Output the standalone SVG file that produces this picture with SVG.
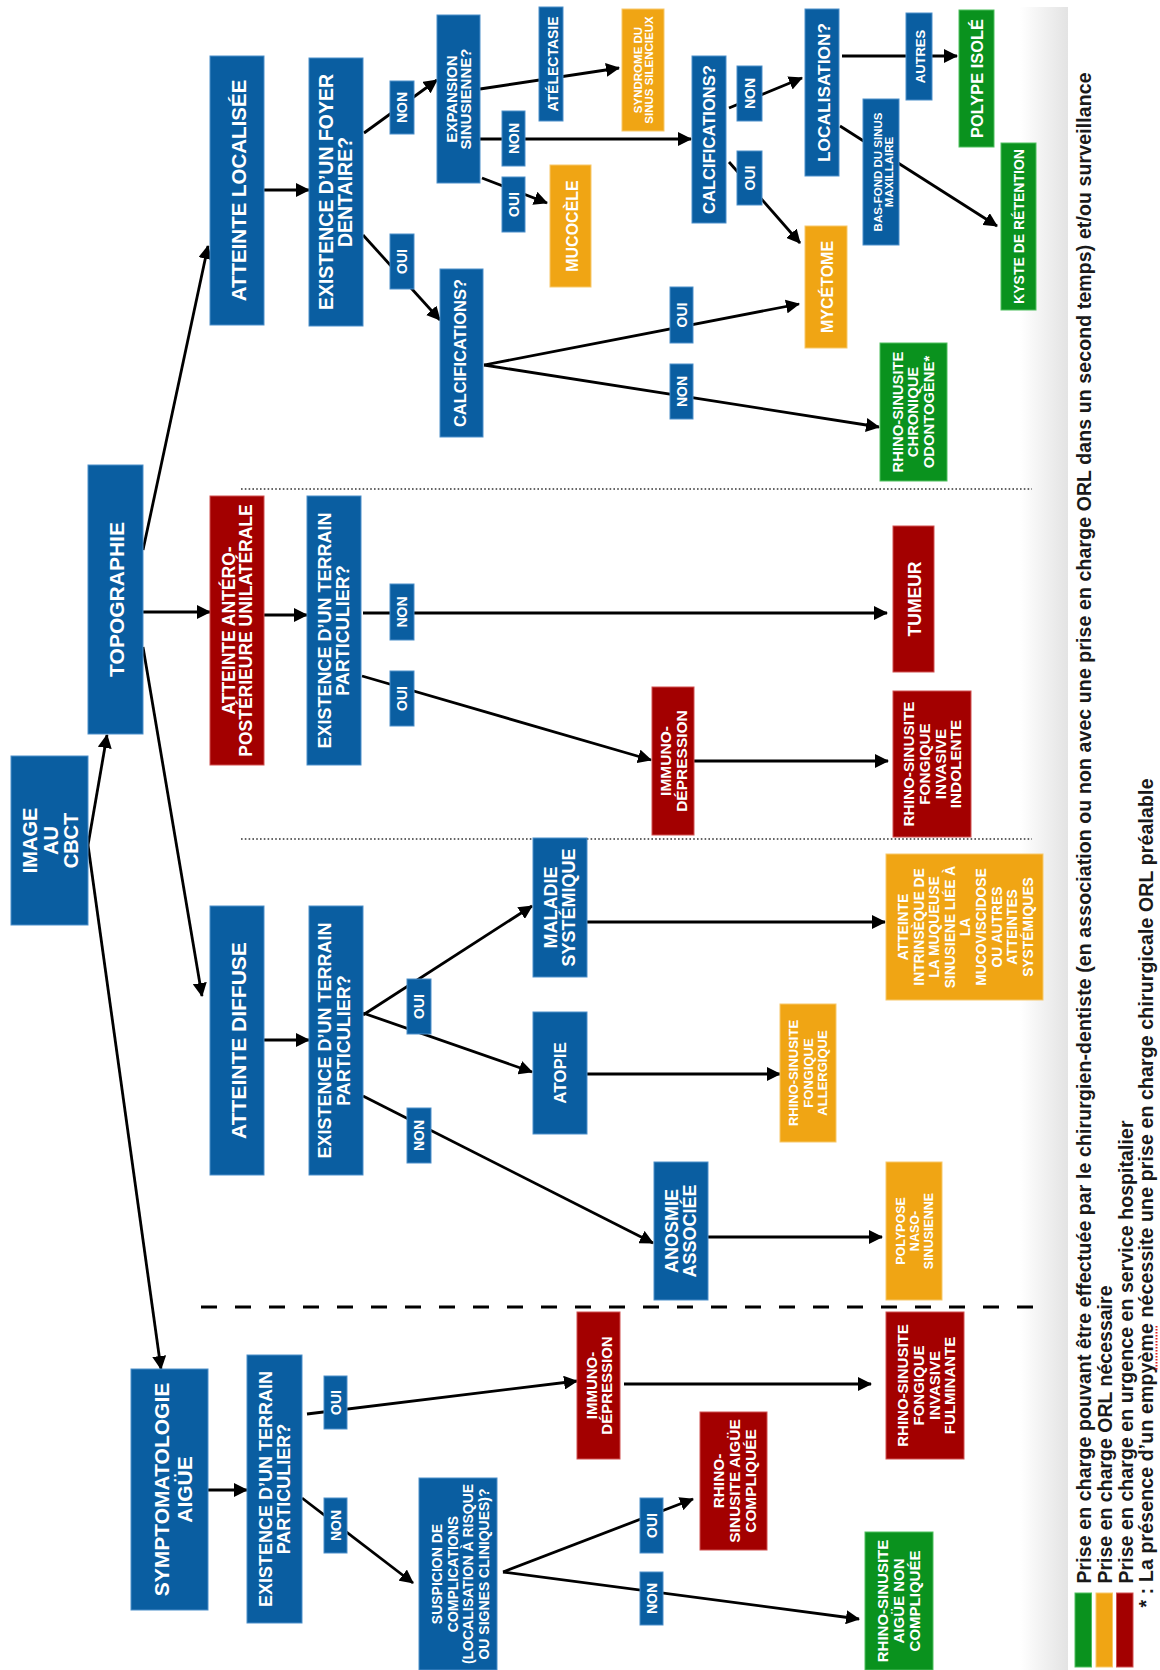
<svg xmlns="http://www.w3.org/2000/svg" width="1160" height="1670" viewBox="0 0 1160 1670">
<defs>
<style>
.blue{fill:#0a5ea1;stroke:#4d8fca;stroke-width:1}
.red{fill:#a30000;stroke:#d05050;stroke-width:1}
.orange{fill:#f0a514;stroke:#f7c86a;stroke-width:1}
.green{fill:#0a921e;stroke:#4fbf5e;stroke-width:1}
.t{font-family:"Liberation Sans",Arial,Helvetica,sans-serif;font-weight:bold;fill:#fff;text-anchor:middle}
.lb{font-family:"Liberation Sans",Arial,Helvetica,sans-serif;font-weight:bold;fill:#fff;text-anchor:middle;font-size:14px}
.c{stroke:#000;stroke-width:2.8;fill:none;marker-end:url(#ah)}
.lg{font-family:"Liberation Sans",Arial,Helvetica,sans-serif;font-size:19.5px;font-weight:bold;fill:#1a1a1a}
</style>
<marker id="ah" markerUnits="userSpaceOnUse" viewBox="0 0 14 14" markerWidth="14" markerHeight="14" refX="13" refY="7" orient="auto"><path d="M0,0 L14,7 L0,14 z" fill="#000"/></marker>
<linearGradient id="shade" x1="0" x2="1" y1="0" y2="0"><stop offset="0" stop-color="#ffffff"/><stop offset="1" stop-color="#e3e3e3"/></linearGradient>
</defs>
<rect x="0" y="0" width="1160" height="1670" fill="#fff"/>
<rect x="1020" y="7" width="48" height="1663" fill="url(#shade)"/>

<g id="separators">
<line x1="241" y1="489" x2="1032" y2="489" stroke="#333" stroke-width="1.6" stroke-dasharray="1.6 2.2"/>
<line x1="241" y1="839" x2="1032" y2="839" stroke="#333" stroke-width="1.6" stroke-dasharray="1.6 2.2"/>
<line x1="201" y1="1307" x2="1040" y2="1307" stroke="#000" stroke-width="3" stroke-dasharray="16 18"/>
</g>

<g id="connectors">
<line class="c" x1="88" y1="845" x2="107" y2="735"/>
<line class="c" x1="88" y1="845" x2="161" y2="1369"/>
<line class="c" x1="143" y1="550" x2="208" y2="246"/>
<line class="c" x1="143" y1="612" x2="210" y2="612"/>
<line class="c" x1="143" y1="647" x2="202" y2="996"/>
<line class="c" x1="264" y1="190" x2="309" y2="190"/>
<line class="c" x1="264" y1="615" x2="307" y2="615"/>
<line class="c" x1="264" y1="1040" x2="309" y2="1040"/>
<line class="c" x1="208" y1="1490" x2="247" y2="1490"/>
<line class="c" x1="364" y1="133" x2="437" y2="80"/>
<line class="c" x1="363" y1="235" x2="440" y2="320"/>
<line class="c" x1="480" y1="89" x2="619" y2="68"/>
<line class="c" x1="480" y1="139" x2="691" y2="139"/>
<line class="c" x1="482" y1="178" x2="547" y2="203"/>
<line class="c" x1="729" y1="108" x2="802" y2="78"/>
<line class="c" x1="729" y1="162" x2="800" y2="243"/>
<line class="c" x1="484" y1="365" x2="799" y2="304"/>
<line class="c" x1="484" y1="365" x2="879" y2="427"/>
<line class="c" x1="842" y1="56" x2="957" y2="56"/>
<line class="c" x1="840" y1="126" x2="997" y2="226"/>
<line class="c" x1="363" y1="613" x2="887" y2="613"/>
<line class="c" x1="362" y1="676" x2="651" y2="760"/>
<line class="c" x1="694" y1="761" x2="888" y2="761"/>
<line class="c" x1="363" y1="1015" x2="532" y2="906"/>
<line class="c" x1="363" y1="1013" x2="532" y2="1072"/>
<line class="c" x1="363" y1="1096" x2="653" y2="1243"/>
<line class="c" x1="587" y1="922" x2="885" y2="922"/>
<line class="c" x1="587" y1="1074" x2="780" y2="1074"/>
<line class="c" x1="708" y1="1237" x2="882" y2="1237"/>
<line class="c" x1="307" y1="1414" x2="577" y2="1381"/>
<line class="c" x1="302" y1="1498" x2="413" y2="1583"/>
<line class="c" x1="624" y1="1384" x2="871" y2="1384"/>
<line class="c" x1="503" y1="1572" x2="693" y2="1499"/>
<line class="c" x1="503" y1="1572" x2="859" y2="1619"/>
</g>

<g id="n-image"><rect class="blue" x="11" y="756" width="77" height="169"/><text class="t" font-size="20" transform="rotate(-90 49.5 840.5)"><tspan x="49.5" y="828.2">IMAGE</tspan><tspan x="49.5" y="848.7">AU</tspan><tspan x="49.5" y="869.2">CBCT</tspan></text></g>
<g id="n-topographie"><rect class="blue" x="88" y="465" width="55" height="269"/><text class="t" font-size="21" transform="rotate(-90 115.5 599.5)"><tspan x="115.5" y="608">TOPOGRAPHIE</tspan></text></g>
<g id="n-atteinte-localisee"><rect class="blue" x="210" y="56" width="54" height="269"/><text class="t" font-size="20.5" transform="rotate(-90 237 190.5)"><tspan x="237" y="199.3">ATTEINTE LOCALISÉE</tspan></text></g>
<g id="n-foyer"><rect class="blue" x="309" y="58" width="54" height="268"/><text class="t" font-size="19.5" transform="rotate(-90 336 192)"><tspan x="336" y="188.8">EXISTENCE D’UN FOYER</tspan><tspan x="336" y="208">DENTAIRE?</tspan></text></g>
<g id="n-antero"><rect class="red" x="210" y="496" width="54" height="269"/><text class="t" font-size="17.5" transform="rotate(-90 237 630.5)"><tspan x="237" y="628.3">ATTEINTE ANTÉRO-</tspan><tspan x="237" y="645.3">POSTÉRIEURE UNILATÉRALE</tspan></text></g>
<g id="n-terrain2"><rect class="blue" x="307" y="496" width="54" height="269"/><text class="t" font-size="18" transform="rotate(-90 334 630.5)"><tspan x="334" y="627.9">EXISTENCE D’UN TERRAIN</tspan><tspan x="334" y="645.4">PARTICULIER?</tspan></text></g>
<g id="n-diffuse"><rect class="blue" x="210" y="906" width="54" height="269"/><text class="t" font-size="21" transform="rotate(-90 237 1040.5)"><tspan x="237" y="1049">ATTEINTE DIFFUSE</tspan></text></g>
<g id="n-terrain3"><rect class="blue" x="309" y="906" width="54" height="269"/><text class="t" font-size="18" transform="rotate(-90 336 1040.5)"><tspan x="336" y="1035.9">EXISTENCE D’UN TERRAIN</tspan><tspan x="336" y="1054.9">PARTICULIER?</tspan></text></g>
<g id="n-symptomatologie"><rect class="blue" x="131" y="1369" width="77" height="241"/><text class="t" font-size="21" transform="rotate(-90 169.5 1489.5)"><tspan x="169.5" y="1488.5">SYMPTOMATOLOGIE</tspan><tspan x="169.5" y="1512">AIGÜE</tspan></text></g>
<g id="n-terrain4"><rect class="blue" x="247" y="1355" width="55" height="268"/><text class="t" font-size="18" transform="rotate(-90 274.5 1489)"><tspan x="274.5" y="1486.4">EXISTENCE D’UN TERRAIN</tspan><tspan x="274.5" y="1504.9">PARTICULIER?</tspan></text></g>
<g id="n-immuno1"><rect class="red" x="577" y="1312" width="43" height="147"/><text class="t" font-size="15" transform="rotate(-90 598.5 1385.5)"><tspan x="598.5" y="1384.4">IMMUNO-</tspan><tspan x="598.5" y="1399.1">DÉPRESSION</tspan></text></g>
<g id="n-immuno2"><rect class="red" x="652" y="687" width="42" height="148"/><text class="t" font-size="15.5" transform="rotate(-90 673 761)"><tspan x="673" y="759">IMMUNO-</tspan><tspan x="673" y="774.5">DÉPRESSION</tspan></text></g>
<g id="n-suspicion"><rect class="blue" x="419" y="1478" width="78" height="192"/><text class="t" font-size="14" transform="rotate(-90 458 1574)"><tspan x="458" y="1558">SUSPICION DE</tspan><tspan x="458" y="1573.5">COMPLICATIONS</tspan><tspan x="458" y="1589">(LOCALISATION À RISQUE</tspan><tspan x="458" y="1604.5">OU SIGNES CLINIQUES)?</tspan></text></g>
<g id="n-compliquee"><rect class="red" x="700" y="1412" width="67" height="138"/><text class="t" font-size="15.4" transform="rotate(-90 733.5 1481)"><tspan x="733.5" y="1471.5">RHINO-</tspan><tspan x="733.5" y="1487.5">SINUSITE AIGÜE</tspan><tspan x="733.5" y="1503.5">COMPLIQUÉE</tspan></text></g>
<g id="n-fulminante"><rect class="red" x="886" y="1312" width="78" height="147"/><text class="t" font-size="15" transform="rotate(-90 925 1385.5)"><tspan x="925" y="1368.9">RHINO-SINUSITE</tspan><tspan x="925" y="1384.6">FONGIQUE</tspan><tspan x="925" y="1400.2">INVASIVE</tspan><tspan x="925" y="1415.9">FULMINANTE</tspan></text></g>
<g id="n-non-compliquee"><rect class="green" x="865" y="1532" width="68" height="138"/><text class="t" font-size="15" transform="rotate(-90 899 1601)"><tspan x="899" y="1590.4">RHINO-SINUSITE</tspan><tspan x="899" y="1606.4">AIGÜE NON</tspan><tspan x="899" y="1622.4">COMPLIQUÉE</tspan></text></g>
<g id="n-anosmie"><rect class="blue" x="654" y="1162" width="54" height="138"/><text class="t" font-size="18" transform="rotate(-90 681 1231)"><tspan x="681" y="1228.4">ANOSMIE</tspan><tspan x="681" y="1246.4">ASSOCIÉE</tspan></text></g>
<g id="n-maladie"><rect class="blue" x="533" y="838" width="54" height="139"/><text class="t" font-size="18" transform="rotate(-90 560 907.5)"><tspan x="560" y="904.9">MALADIE</tspan><tspan x="560" y="922.9">SYSTÉMIQUE</tspan></text></g>
<g id="n-atopie"><rect class="blue" x="533" y="1012" width="54" height="122"/><text class="t" font-size="17" transform="rotate(-90 560 1073)"><tspan x="560" y="1079.1">ATOPIE</tspan></text></g>
<g id="n-intrinseque"><rect class="orange" x="886" y="854" width="157" height="146"/><text class="t" font-size="13.8" transform="rotate(-90 964.5 927)"><tspan x="964.5" y="870.4">ATTEINTE</tspan><tspan x="964.5" y="886">INTRINSÈQUE DE</tspan><tspan x="964.5" y="901.6">LA MUQUEUSE</tspan><tspan x="964.5" y="917.2">SINUSIENE LIÉE À</tspan><tspan x="964.5" y="932.8">LA</tspan><tspan x="964.5" y="948.4">MUCOVISCIDOSE</tspan><tspan x="964.5" y="964">OU AUTRES</tspan><tspan x="964.5" y="979.6">ATTEINTES</tspan><tspan x="964.5" y="995.2">SYSTÉMIQUES</tspan></text></g>
<g id="n-allergique"><rect class="orange" x="780" y="1004" width="56" height="138"/><text class="t" font-size="13" transform="rotate(-90 808 1073)"><tspan x="808" y="1062.7">RHINO-SINUSITE</tspan><tspan x="808" y="1077.7">FONGIQUE</tspan><tspan x="808" y="1092.2">ALLERGIQUE</tspan></text></g>
<g id="n-polypose"><rect class="orange" x="886" y="1162" width="56" height="138"/><text class="t" font-size="12.5" transform="rotate(-90 914 1231)"><tspan x="914" y="1222">POLYPOSE</tspan><tspan x="914" y="1236">NASO-</tspan><tspan x="914" y="1250">SINUSIENNE</tspan></text></g>
<g id="n-tumeur"><rect class="red" x="893" y="526" width="41" height="146"/><text class="t" font-size="17.5" transform="rotate(-90 913.5 599)"><tspan x="913.5" y="606.8">TUMEUR</tspan></text></g>
<g id="n-indolente"><rect class="red" x="893" y="691" width="78" height="146"/><text class="t" font-size="15.3" transform="rotate(-90 932 764)"><tspan x="932" y="746.3">RHINO-SINUSITE</tspan><tspan x="932" y="761.9">FONGIQUE</tspan><tspan x="932" y="777.5">INVASIVE</tspan><tspan x="932" y="793.1">INDOLENTE</tspan></text></g>
<g id="n-odontogene"><rect class="green" x="880" y="343" width="67" height="138"/><text class="t" font-size="14.8" transform="rotate(-90 913.5 412)"><tspan x="913.5" y="401.3">RHINO-SINUSITE</tspan><tspan x="913.5" y="416.8">CHRONIQUE</tspan><tspan x="913.5" y="432.3">ODONTOGÈNE*</tspan></text></g>
<g id="n-mycetome"><rect class="orange" x="805" y="226" width="42" height="122"/><text class="t" font-size="16" transform="rotate(-90 826 287)"><tspan x="826" y="293.7">MYCÉTOME</tspan></text></g>
<g id="n-kyste"><rect class="green" x="1001" y="143" width="35" height="167"/><text class="t" font-size="14" transform="rotate(-90 1018.5 226.5)"><tspan x="1018.5" y="232">KYSTE DE RÉTENTION</tspan></text></g>
<g id="n-polype"><rect class="green" x="959" y="10" width="35" height="137"/><text class="t" font-size="16.4" transform="rotate(-90 976.5 78.5)"><tspan x="976.5" y="85.4">POLYPE ISOLÉ</tspan></text></g>
<g id="n-localisation"><rect class="blue" x="805" y="9" width="34" height="167"/><text class="t" font-size="17.3" transform="rotate(-90 822 92.5)"><tspan x="822" y="100">LOCALISATION?</tspan></text></g>
<g id="n-calcif-haut"><rect class="blue" x="692" y="56" width="34" height="167"/><text class="t" font-size="16.6" transform="rotate(-90 709 139.5)"><tspan x="709" y="145.4">CALCIFICATIONS?</tspan></text></g>
<g id="n-calcif-bas"><rect class="blue" x="440" y="269" width="43" height="168"/><text class="t" font-size="16.5" transform="rotate(-90 461.5 353)"><tspan x="461.5" y="357.4">CALCIFICATIONS?</tspan></text></g>
<g id="n-expansion"><rect class="blue" x="437" y="15" width="43" height="168"/><text class="t" font-size="15" transform="rotate(-90 458.5 99)"><tspan x="458.5" y="97.1">EXPANSION</tspan><tspan x="458.5" y="111.7">SINUSIENNE?</tspan></text></g>
<g id="n-syndrome"><rect class="orange" x="622" y="9" width="42" height="122"/><text class="t" font-size="11.5" transform="rotate(-90 643 70)"><tspan x="643" y="68.6">SYNDROME DU</tspan><tspan x="643" y="80.1">SINUS SILENCIEUX</tspan></text></g>
<g id="n-mucocele"><rect class="orange" x="550" y="165" width="41" height="122"/><text class="t" font-size="16" transform="rotate(-90 570.5 226)"><tspan x="570.5" y="233.2">MUCOCÈLE</tspan></text></g>

<g id="edge-labels">
<g id="l-atelectasie"><rect class="blue" x="539" y="7" width="24" height="114"/><text class="t" font-size="14" transform="rotate(-90 551 64)"><tspan x="551" y="70.5">ATÉLECTASIE</tspan></text></g>
<g id="l-autres"><rect class="blue" x="906" y="13" width="26" height="87"/><text class="t" font-size="13" transform="rotate(-90 919 56.5)"><tspan x="919" y="62.2">AUTRES</tspan></text></g>
<g id="l-basfond"><rect class="blue" x="863" y="99" width="36" height="146"/><text class="t" font-size="11.5" transform="rotate(-90 881 172)"><tspan x="881" y="172.6">BAS-FOND DU SINUS</tspan><tspan x="881" y="184.1">MAXILLAIRE</tspan></text></g>
<g><rect class="blue" x="390" y="81" width="24" height="53"/><text class="lb" transform="rotate(-90 402 107.5)" x="402" y="112.5">NON</text></g>
<g><rect class="blue" x="390" y="234" width="24" height="55"/><text class="lb" transform="rotate(-90 402 261.5)" x="402" y="266.5">OUI</text></g>
<g><rect class="blue" x="502" y="111" width="23" height="55"/><text class="lb" transform="rotate(-90 513.5 138.5)" x="513.5" y="143.5">NON</text></g>
<g><rect class="blue" x="502" y="177" width="23" height="55"/><text class="lb" transform="rotate(-90 513.5 204.5)" x="513.5" y="209.5">OUI</text></g>
<g><rect class="blue" x="737" y="66" width="25" height="55"/><text class="lb" transform="rotate(-90 749.5 93.5)" x="749.5" y="98.5">NON</text></g>
<g><rect class="blue" x="737" y="151" width="25" height="54"/><text class="lb" transform="rotate(-90 749.5 178)" x="749.5" y="183">OUI</text></g>
<g><rect class="blue" x="670" y="287" width="23" height="56"/><text class="lb" transform="rotate(-90 681.5 315)" x="681.5" y="320">OUI</text></g>
<g><rect class="blue" x="670" y="364" width="23" height="55"/><text class="lb" transform="rotate(-90 681.5 391.5)" x="681.5" y="396.5">NON</text></g>
<g><rect class="blue" x="390" y="584" width="24" height="56"/><text class="lb" transform="rotate(-90 402 612)" x="402" y="617">NON</text></g>
<g><rect class="blue" x="390" y="671" width="24" height="55"/><text class="lb" transform="rotate(-90 402 698.5)" x="402" y="703.5">OUI</text></g>
<g><rect class="blue" x="407" y="979" width="24" height="55"/><text class="lb" transform="rotate(-90 419 1006.5)" x="419" y="1011.5">OUI</text></g>
<g><rect class="blue" x="407" y="1108" width="24" height="55"/><text class="lb" transform="rotate(-90 419 1135.5)" x="419" y="1140.5">NON</text></g>
<g><rect class="blue" x="324" y="1376" width="23" height="53"/><text class="lb" transform="rotate(-90 335.5 1402.5)" x="335.5" y="1407.5">OUI</text></g>
<g><rect class="blue" x="324" y="1498" width="23" height="55"/><text class="lb" transform="rotate(-90 335.5 1525.5)" x="335.5" y="1530.5">NON</text></g>
<g><rect class="blue" x="640" y="1498" width="23" height="55"/><text class="lb" transform="rotate(-90 651.5 1525.5)" x="651.5" y="1530.5">OUI</text></g>
<g><rect class="blue" x="640" y="1572" width="23" height="53"/><text class="lb" transform="rotate(-90 651.5 1598.5)" x="651.5" y="1603.5">NON</text></g>
</g>

<g id="legend">
<rect x="1075" y="1593" width="16.5" height="74" fill="#0a921e" stroke="#4fbf5e" stroke-width="1"/>
<rect x="1096" y="1593" width="16.5" height="74" fill="#f0a514" stroke="#f7c86a" stroke-width="1"/>
<rect x="1116.5" y="1593" width="16.5" height="74" fill="#a30000" stroke="#d05050" stroke-width="1"/>
<text class="lg" transform="translate(1091 1583.5) rotate(-90)" textLength="1511" lengthAdjust="spacing">Prise en charge pouvant être effectuée par le chirurgien-dentiste (en association ou non avec une prise en charge ORL dans un second temps) et/ou surveillance</text>
<text class="lg" transform="translate(1111.8 1583.5) rotate(-90)" textLength="298" lengthAdjust="spacing">Prise en charge ORL nécessaire</text>
<text class="lg" transform="translate(1132.6 1583.5) rotate(-90)" textLength="463" lengthAdjust="spacing">Prise en charge en urgence en service hospitalier</text>
<text class="lg" transform="translate(1153.4 1607.5) rotate(-90)" textLength="829" lengthAdjust="spacing">* : La présence d’un empyème nécessite une prise en charge chirurgicale ORL préalable</text>
<line x1="1156.5" y1="1326" x2="1156.5" y2="1371" stroke="#e02020" stroke-width="2" stroke-dasharray="1.5 1.5"/>
</g>
</svg>
